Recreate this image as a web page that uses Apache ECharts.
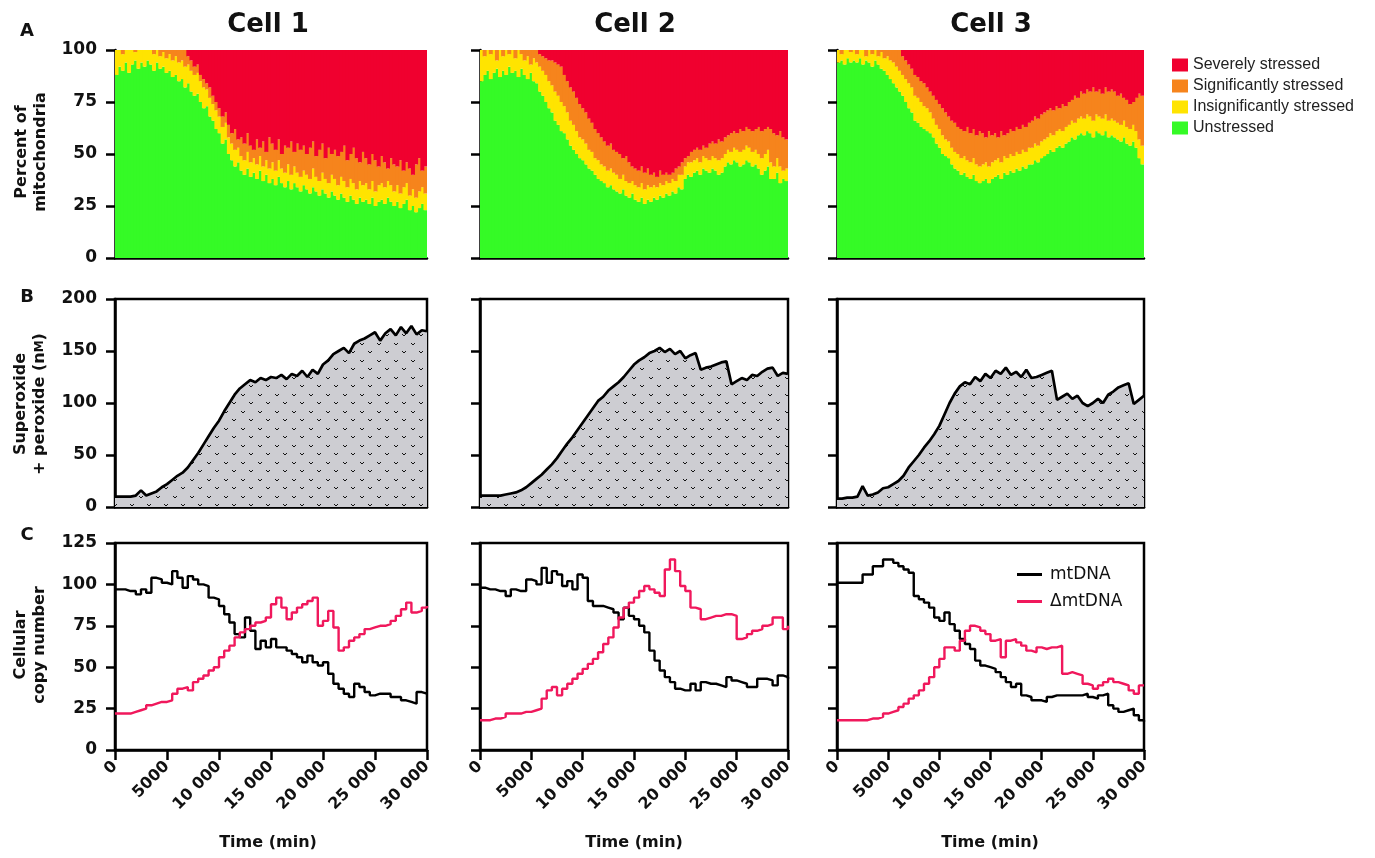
<!DOCTYPE html>
<html><head><meta charset="utf-8">
<script src="https://cdn.jsdelivr.net/npm/echarts@6/dist/echarts.min.js"></script>
<style>html,body{margin:0;padding:0;background:#fff}#c{width:1375px;height:858px}</style>
</head><body><div id="c"></div><script>
// ---------- DATA ----------
const cellTitles = ['Cell 1', 'Cell 2', 'Cell 3'];
const stressNames = ['Severely stressed', 'Significantly stressed', 'Insignificantly stressed', 'Unstressed'];
const lineNames = ['mtDNA', 'ΔmtDNA'];
const xTickLabels = ['0', '5000', '10 000', '15 000', '20 000', '25 000', '30 000'];

// Panel A sample times (min)
const tA = [0,300,600,900,1200,1500,1800,2100,2400,2700,3000,3300,3600,3900,4200,4500,4800,5100,5400,5700,
6000,6300,6600,6900,7200,7500,7800,8100,8400,8700,9000,9300,9600,9900,10200,10500,10800,11100,11400,11700,
12000,12300,12600,12900,13200,13500,13800,14100,14400,14700,15000,15300,15600,15900,16200,16500,16800,17100,17400,17700,
18000,18300,18600,18900,19200,19500,19800,20100,20400,20700,21000,21300,21600,21900,22200,22500,22800,23100,23400,23700,
24000,24300,24600,24900,25200,25500,25800,26100,26400,26700,27000,27300,27600,27900,28200,28500,28800,29100,29400,29700];

// Panel A boundaries (cumulative %): top of green, top of yellow, top of orange (red above)
const greenTop1 = [88,92,90,94,89,93,95,91,94,92, 95,93,90,94,91,92,89,90,87,88, 85,86,82,84,80,78,79,75,72,73, 68,66,62,60,55,57,50,47,44,46, 42,40,43,39,41,38,42,37,40,36, 38,35,39,36,34,37,33,36,34,32, 35,33,31,34,32,30,33,31,29,32, 30,28,31,29,27,30,28,26,29,27, 28,26,29,25,27,28,26,29,27,25, 27,24,26,28,23,25,22,24,26,23];
const yellowTop1 = [100,100,98,100,100,100,99,100,100,100, 100,100,98,100,97,99,96,98,95,97, 94,95,92,93,90,88,89,85,82,81, 77,74,71,68,63,65,58,55,52,53, 49,47,51,46,48,45,49,44,47,43, 46,42,47,43,41,45,40,44,41,39, 42,40,38,43,39,37,41,38,36,40, 38,35,39,37,34,38,36,33,37,35, 36,33,37,32,35,36,34,37,35,32, 35,31,34,36,30,33,29,32,34,31];
const orangeTop1 = [100,100,100,100,100,100,100,100,100,100, 100,100,100,100,100,100,100,100,100,100, 100,100,100,97,95,92,93,88,86,84, 82,78,75,72,68,70,64,60,62,57, 58,55,60,54,52,57,53,56,51,58, 55,52,57,50,54,53,56,51,55,52, 54,50,53,56,49,52,55,48,53,50, 52,49,51,54,47,50,53,48,46,51, 48,45,50,47,44,49,46,43,48,45, 44,47,42,46,43,40,45,48,42,44];

const greenTop2 = [85,88,90,86,89,91,87,90,88,92, 89,90,87,91,88,86,89,85,84,80, 78,75,72,70,66,64,61,60,57,54, 52,50,48,47,45,43,42,40,38,37, 36,34,35,33,32,31,33,30,29,31, 28,27,29,26,28,27,29,28,30,29, 31,30,32,31,34,33,38,40,39,41, 42,40,43,42,41,43,42,40,41,44, 46,45,47,46,44,45,47,46,44,45, 43,40,42,44,38,38,41,36,38,37];
const yellowTop2 = [100,97,100,98,100,95,100,97,100,98, 100,96,100,98,95,97,93,96,94,92, 90,88,85,83,80,78,75,73,70,66, 64,61,58,57,55,52,51,48,47,45, 44,42,43,41,40,38,40,37,36,37, 35,34,36,33,35,34,35,34,36,35, 37,36,38,37,40,40,44,46,46,47, 48,46,49,48,47,49,48,47,48,50, 52,51,53,52,51,52,54,53,51,52, 50,48,50,52,46,44,48,44,42,43];
const orangeTop2 = [100,100,100,100,100,100,100,100,100,100, 100,100,100,100,100,100,100,100,100,98, 97,96,95,95,94,93,92,88,85,82, 80,77,74,72,70,67,65,62,60,58, 56,54,55,52,51,50,48,49,46,44, 43,42,44,41,43,40,41,39,42,40, 41,40,41,43,44,46,48,49,51,52, 53,52,54,53,55,56,55,57,56,58, 59,60,61,60,62,61,63,62,61,62, 63,61,62,63,62,60,59,61,58,57];

const greenTop3 = [94,95,93,96,94,95,94,96,93,95, 94,92,95,93,91,90,88,86,84,82, 80,78,75,72,70,66,65,63,62,61, 60,58,55,53,50,49,48,45,43,42, 40,41,39,38,40,37,36,37,38,36, 38,39,40,38,41,40,42,41,43,42, 44,43,45,45,47,46,48,49,50,52, 51,53,54,53,55,56,58,57,59,60, 59,61,60,58,61,60,59,61,58,59, 58,57,56,58,55,54,56,53,48,45];
const yellowTop3 = [100,98,100,100,99,100,98,100,100,97, 100,98,100,97,99,96,97,95,94,92, 90,88,86,84,82,78,77,75,73,72, 70,67,64,62,59,57,56,53,51,50, 48,49,47,46,48,45,44,45,46,44, 46,47,48,46,49,48,50,49,51,50, 52,51,53,53,55,54,56,57,58,60, 59,61,62,61,63,64,66,65,67,68, 67,69,68,66,69,68,67,69,66,67, 66,65,64,66,63,62,64,61,57,54];
const orangeTop3 = [100,100,100,100,100,100,100,100,100,100, 100,100,100,100,100,100,100,100,100,100, 100,97,95,93,91,88,87,85,84,82, 80,78,76,74,72,70,68,66,65,63, 62,61,63,60,62,59,61,60,58,61, 59,60,58,61,59,60,62,61,63,62, 64,63,65,66,68,67,69,70,71,72, 71,73,72,74,73,75,76,78,77,80, 79,81,80,82,80,81,79,82,80,81, 80,78,79,77,76,74,75,77,79,78];

// Panels B and C sample times (min)
const tBC = [0,500,1000,1500,2000,2500,3000,3500,4000,4500,5000,5500,6000,6500,7000,7500,8000,8500,9000,9500,
10000,10500,11000,11500,12000,12500,13000,13500,14000,14500,15000,15500,16000,16500,17000,17500,18000,18500,19000,19500,
20000,20500,21000,21500,22000,22500,23000,23500,24000,24500,25000,25500,26000,26500,27000,27500,28000,28500,29000,29500,30000];

// Panel B: superoxide + peroxide (nM)
const ros1 = [10,10,10,10,11,16,11,13,15,19, 22,26,30,33,38,45,52,60,68,76, 83,92,100,108,114,118,122,120,124,122, 125,124,127,123,128,126,131,125,132,128, 137,141,147,150,153,148,157,160,162,165, 168,160,167,171,165,173,167,174,166,170, 169];
const ros2 = [11,11,11,11,11,12,13,14,16,19, 23,27,31,36,41,47,54,61,67,74, 81,88,95,102,106,112,116,120,125,131, 137,141,144,148,150,153,149,152,147,150, 143,146,148,132,134,135,137,139,140,118, 121,124,122,127,126,130,133,134,126,129, 128];
const ros3 = [8,8,9,9,10,20,11,12,14,18, 19,22,25,30,38,44,50,57,63,70, 78,89,100,109,116,120,118,125,121,128, 124,131,128,134,127,130,125,132,124,125, 127,129,131,103,106,109,104,107,100,97, 100,104,100,108,111,115,117,119,99,103, 107];

// Panel C: copy numbers
const mt1 = [97,97,96,96,94,97,95,104,103,101, 100,108,104,98,105,103,100,99,92,91, 87,82,77,70,68,80,72,61,66,62, 67,62,62,60,58,56,53,57,53,51, 53,46,40,37,34,32,40,38,35,33, 34,34,34,32,32,30,29,28,35,34, 34];
const del1 = [22,22,22,23,24,25,27,28,29,29, 30,34,37,38,36,41,43,45,48,50, 56,60,63,68,71,73,75,77,78,80, 88,92,86,79,83,86,88,90,92,75, 78,84,74,60,62,66,68,70,73,74, 75,75,76,78,81,85,89,83,84,86, 87];
const mt2 = [98,97,97,96,96,93,97,96,96,103, 102,100,110,101,108,106,99,102,97,106, 104,90,87,87,86,85,83,79,86,81, 79,75,71,60,54,48,44,41,37,36, 36,40,36,41,40,40,39,38,44,42, 41,40,38,38,43,43,42,39,45,44, 43];
const del2 = [18,18,19,19,20,22,22,22,23,23, 24,25,31,36,38,33,37,40,43,46, 49,52,55,59,64,68,74,80,86,89, 92,96,99,97,95,93,109,115,108,99, 96,86,85,79,80,81,81,82,82,81, 67,68,70,72,73,75,76,80,80,73, 75];
const mt3 = [101,101,101,101,101,106,106,111,111,115, 115,113,111,109,107,93,91,89,86,80, 78,83,76,72,67,64,61,54,51,50, 49,47,44,41,38,40,33,32,30,30, 29,32,33,33,33,33,33,33,34,32, 31,33,34,27,25,23,24,25,21,18, 17];
const del3 = [18,18,18,18,18,18,19,19,20,22, 23,24,26,28,31,33,36,40,44,50, 55,62,62,60,66,72,75,74,72,70, 66,67,56,66,67,65,63,60,59,62, 61,62,62,63,46,47,46,45,40,39, 37,39,41,43,41,40,39,36,34,39, 39];

// ---------- STYLE / LAYOUT ----------
const cols = [{left:115,width:312},{left:480,width:308},{left:837,width:307}];
const rows = [{top:50,height:208},{top:299,height:208},{top:543,height:207}];
const stressColors = {sev:'#f0002f', sig:'#f6841c', ins:'#ffe400', un:'#35fa26'};
const BOLD = '"DejaVu Sans", sans-serif';
const black = '#111';

function makePattern(){
  const c = document.createElement('canvas'); c.width = 17; c.height = 17;
  const g = c.getContext('2d');
  g.fillStyle = '#cdcdd2'; g.fillRect(0,0,17,17);
  g.fillStyle = '#111';
  const mark = (x,y)=>{ g.fillRect(x,y,1,1); g.fillRect(x+3,y,1,1); g.fillRect(x+1,y+1,2,1); };
  mark(3,3); mark(11,11);
  return c;
}
const pattern = {image: makePattern(), repeat: 'repeat'};

const grids = [], xAxes = [], yAxes = [], series = [];
const yCfg = [{max:100, interval:25}, {max:200, interval:50}, {max:125, interval:25}];
const aSets = [[greenTop1,yellowTop1,orangeTop1],[greenTop2,yellowTop2,orangeTop2],[greenTop3,yellowTop3,orangeTop3]];
const rosSets = [ros1, ros2, ros3];
const mtSets = [mt1, mt2, mt3];
const delSets = [del1, del2, del3];

for (let r = 0; r < 3; r++) {
  for (let c = 0; c < 3; c++) {
    const gi = r*3 + c;
    grids.push({left: cols[c].left, width: cols[c].width, top: rows[r].top, height: rows[r].height,
      show: r > 0, borderColor: '#000', borderWidth: 2.5, backgroundColor: 'transparent', containLabel: false});
    const axLine = {show: true, onZero: false, lineStyle: {color: '#000', width: 2.5}};
    if (r === 0) {
      xAxes.push({type: 'category', gridIndex: gi, data: tA, boundaryGap: true, axisLine: axLine,
        axisTick: {show: false}, axisLabel: {show: false}, splitLine: {show: false}});
    } else {
      xAxes.push({type: 'value', gridIndex: gi, min: 0, max: 30000, interval: 5000, axisLine: axLine,
        axisTick: {show: r === 2, length: 10, lineStyle: {color: '#000', width: 2.5}},
        axisLabel: {show: r === 2, rotate: 45, margin: 14, fontFamily: BOLD, fontWeight: 'bold', fontSize: 16, color: black,
          formatter: v => xTickLabels[Math.round(v/5000)]},
        splitLine: {show: false}});
    }
    yAxes.push({type: 'value', gridIndex: gi, min: 0, max: yCfg[r].max, interval: yCfg[r].interval, axisLine: axLine,
      axisTick: {show: true, length: 9, lineStyle: {color: '#000', width: 2.5}},
      axisLabel: {show: c === 0, margin: 18, fontFamily: BOLD, fontWeight: 'bold', fontSize: 17, color: black},
      splitLine: {show: false}});

    if (r === 0) {
      const [gT, yT, oT] = aSets[c];
      const layers = [
        ['Unstressed', stressColors.un, gT.map(v => v)],
        ['Insignificantly stressed', stressColors.ins, yT.map((v,i) => v - gT[i])],
        ['Significantly stressed', stressColors.sig, oT.map((v,i) => v - yT[i])],
        ['Severely stressed', stressColors.sev, oT.map(v => 100 - v)]
      ];
      layers.forEach(([name, color, data]) => series.push({type: 'bar', name, xAxisIndex: gi, yAxisIndex: gi,
        stack: 'cell' + c, data, barWidth: 4, itemStyle: {color, borderWidth: 0}, silent: true}));
    } else if (r === 1) {
      series.push({type: 'line', name: 'ros' + c, xAxisIndex: gi, yAxisIndex: gi, symbol: 'none',
        data: tBC.map((t,i) => [t, rosSets[c][i]]),
        lineStyle: {color: '#000', width: 2.7}, itemStyle: {color: '#000'}, areaStyle: {color: pattern, opacity: 1}});
    } else {
      series.push({type: 'line', name: 'mtDNA', xAxisIndex: gi, yAxisIndex: gi, symbol: 'none', step: 'end',
        data: tBC.map((t,i) => [t, mtSets[c][i]]), lineStyle: {color: '#000', width: 2.4}, itemStyle: {color: '#000'}});
      series.push({type: 'line', name: 'ΔmtDNA', xAxisIndex: gi, yAxisIndex: gi, symbol: 'none', step: 'end',
        data: tBC.map((t,i) => [t, delSets[c][i]]), lineStyle: {color: '#f0185c', width: 2.4}, itemStyle: {color: '#f0185c'}});
    }
  }
}

const txt = (x, y, text, font, extra) => Object.assign({type: 'text', x, y, silent: true,
  style: Object.assign({text, font, fill: black, textAlign: 'center', textVerticalAlign: 'middle'}, extra || {})});
const graphics = [
  txt(268, 25, cellTitles[0], 'bold 26px ' + BOLD),
  txt(635, 25, cellTitles[1], 'bold 26px ' + BOLD),
  txt(991, 25, cellTitles[2], 'bold 26px ' + BOLD),
  txt(27, 31, 'A', 'bold 18px ' + BOLD),
  txt(27, 297, 'B', 'bold 18px ' + BOLD),
  txt(27, 535, 'C', 'bold 18px ' + BOLD),
  txt(268, 843, 'Time (min)', 'bold 16px ' + BOLD),
  txt(634, 843, 'Time (min)', 'bold 16px ' + BOLD),
  txt(990, 843, 'Time (min)', 'bold 16px ' + BOLD),
  Object.assign(txt(31, 152, 'Percent of\nmitochondria', 'bold 16px ' + BOLD, {lineHeight: 19}), {rotation: Math.PI/2}),
  Object.assign(txt(30, 404, 'Superoxide\n+ peroxide (n{s|M})', 'bold 16px ' + BOLD,
    {lineHeight: 19, rich: {s: {font: 'bold 12px ' + BOLD, fill: black}}}), {rotation: Math.PI/2}),
  Object.assign(txt(30, 645, 'Cellular\ncopy number', 'bold 16px ' + BOLD, {lineHeight: 19}), {rotation: Math.PI/2})
];

const chart = echarts.init(document.getElementById('c'), null, {renderer: 'canvas'});
chart.setOption({
  animation: false,
  backgroundColor: '#fff',
  grid: grids, xAxis: xAxes, yAxis: yAxes, series,
  legend: [
    {data: stressNames, orient: 'vertical', left: 1167, top: 52, itemWidth: 16, itemHeight: 13, itemGap: 5,
      icon: 'rect', selectedMode: false,
      textStyle: {fontFamily: '"Liberation Sans", Arial, sans-serif', fontSize: 16, color: '#222'}},
    {data: lineNames, orient: 'vertical', left: 1012, top: 561, itemWidth: 25, itemHeight: 3, itemGap: 10,
      icon: 'rect', selectedMode: false,
      textStyle: {fontFamily: '"DejaVu Sans", sans-serif', fontSize: 17, color: black, padding: [0,0,0,3]}}
  ],
  graphic: graphics
});
</script></body></html>
